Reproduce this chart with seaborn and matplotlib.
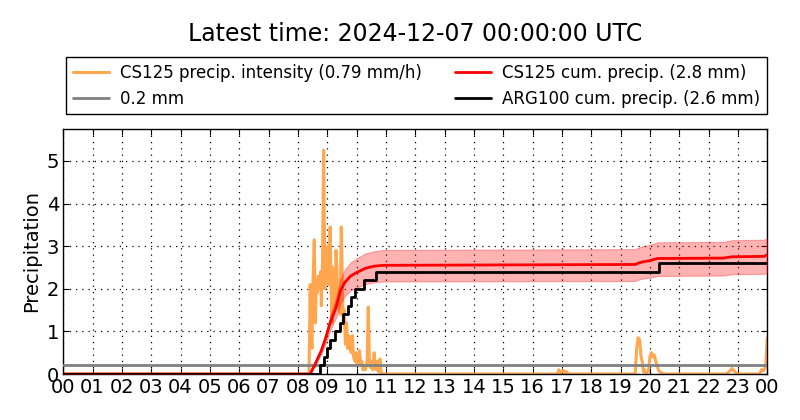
import matplotlib
matplotlib.use("Agg")
import matplotlib.pyplot as plt
import numpy as np
import pandas as pd
import seaborn as sns

# --- data (hours since 2024-12-06 00:00 UTC) ---
int_hours = [0.0, 8.38, 8.42, 8.45, 8.48, 8.52, 8.56, 8.60, 8.63, 8.66, 8.70, 8.74,
             8.78, 8.80, 8.84, 8.88, 8.92, 8.95, 8.98, 9.02, 9.06, 9.10, 9.13, 9.16,
             9.19, 9.23, 9.27, 9.30, 9.33, 9.36, 9.40, 9.44, 9.48, 9.52, 9.55, 9.58,
             9.62, 9.66, 9.70, 9.74, 9.78, 9.82, 9.86, 9.90, 9.94, 9.98, 10.02, 10.06,
             10.10, 10.14, 10.18, 10.22, 10.26, 10.30, 10.36, 10.40, 10.44, 10.48,
             10.52, 10.56, 10.60, 10.64, 10.68, 10.72, 10.76, 10.80, 10.84, 10.90,
             16.85, 16.90, 16.95, 17.05, 17.10, 17.15, 17.20,
             19.50, 19.55, 19.60, 19.65, 19.70, 19.74, 19.78, 19.82, 19.86, 19.95,
             20.00, 20.05, 20.10, 20.15, 20.20, 20.25, 20.30, 20.35, 20.45,
             22.60, 22.70, 22.80, 22.90, 23.00, 23.75, 23.80, 23.88, 23.95, 24.0]
int_values = [0.0, 0.0, 2.1, 1.0, 0.6, 2.3, 3.15, 1.2, 2.2, 1.9, 2.3, 2.0,
              2.4, 1.6, 2.6, 5.25, 2.0, 2.8, 2.2, 3.0, 2.1, 3.45, 2.2, 1.2,
              2.5, 2.3, 1.5, 2.9, 2.5, 1.6, 2.0, 1.4, 3.45, 2.0, 1.2, 1.5,
              0.7, 1.2, 0.6, 0.9, 0.6, 0.5, 0.9, 0.4, 0.3, 0.5, 0.2, 0.35,
              0.55, 0.2, 0.3, 0.1, 0.2, 0.1, 0.3, 1.57, 0.3, 0.15,
              0.3, 0.1, 0.5, 0.15, 0.1, 0.3, 0.05, 0.35, 0.02, 0.0,
              0.0, 0.1, 0.02, 0.08, 0.02, 0.06, 0.0,
              0.0, 0.6, 0.85, 0.8, 0.4, 0.3, 0.05, 0.1, 0.02, 0.05,
              0.4, 0.5, 0.4, 0.45, 0.3, 0.2, 0.08, 0.05, 0.0,
              0.0, 0.05, 0.13, 0.05, 0.0, 0.0, 0.1, 0.08, 0.2, 0.84]

cum_hours = [0.0, 8.42, 8.6, 8.8, 8.95, 9.1, 9.3, 9.45, 9.6, 9.8, 10.0, 10.3,
             10.6, 10.9, 19.5, 19.6, 19.75, 20.0, 20.25, 22.5, 22.8, 23.9, 24.0]
cum_cs125 = [0.0, 0.0, 0.25, 0.55, 0.85, 1.2, 1.55, 1.95, 2.15, 2.3, 2.38, 2.48,
             2.53, 2.55, 2.57, 2.6, 2.63, 2.66, 2.71, 2.72, 2.75, 2.76, 2.8]
cum_lower = [0.0, 0.0, 0.21, 0.47, 0.72, 1.02, 1.32, 1.66, 1.83, 1.96, 2.02, 2.11,
             2.15, 2.17, 2.18, 2.21, 2.24, 2.26, 2.30, 2.31, 2.34, 2.35, 2.38]
cum_upper = [0.0, 0.0, 0.29, 0.63, 0.97, 1.37, 1.77, 2.22, 2.45, 2.62, 2.71, 2.83,
             2.88, 2.91, 2.93, 2.96, 3.0, 3.03, 3.09, 3.10, 3.14, 3.15, 3.19]

arg_hours = [0.0, 8.75, 8.9, 8.98, 9.1, 9.25, 9.45, 9.55, 9.7, 9.8, 9.95, 10.25,
             10.65, 20.3, 24.0]
arg_cum = [0.0, 0.2, 0.4, 0.6, 0.8, 1.0, 1.2, 1.4, 1.6, 1.8, 2.0, 2.2,
           2.4, 2.6, 2.6]

threshold = 0.2
tick_hours = list(range(0, 25))
tick_labels = ["%02d" % (h % 24) for h in tick_hours]

title = "Latest time: 2024-12-07 00:00:00 UTC"
labels = ["CS125 precip. intensity (0.79 mm/h)", "0.2 mm",
          "CS125 cum. precip. (2.8 mm)", "ARG100 cum. precip. (2.6 mm)"]

# --- style ---
sns.set_style("ticks")
plt.rcParams["font.family"] = ["DejaVu Sans"]
plt.rcParams["xtick.direction"] = "in"
plt.rcParams["ytick.direction"] = "in"
plt.rcParams["text.color"] = "black"
plt.rcParams["axes.labelcolor"] = "black"
plt.rcParams["xtick.color"] = "black"
plt.rcParams["ytick.color"] = "black"

df_int = pd.DataFrame({"hour": int_hours, "value": int_values})
df_cum = pd.DataFrame({"hour": cum_hours, "value": cum_cs125})
df_arg = pd.DataFrame({"hour": arg_hours, "value": arg_cum})

fig = plt.figure(figsize=(8, 4.2), dpi=100)
ax = fig.add_axes([0.079, 0.1095, 0.88, 0.5835])

sns.lineplot(data=df_int, x="hour", y="value", ax=ax, color="#ffa64f",
             lw=2.2, label=labels[0], zorder=2)
ax.axhline(threshold, color="gray", lw=2, label=labels[1], zorder=3)
ax.fill_between(cum_hours, cum_lower, cum_upper, color="red", alpha=0.3,
                lw=0.8, zorder=3)
sns.lineplot(data=df_cum, x="hour", y="value", ax=ax, color="red",
             lw=2, label=labels[2], zorder=4)
sns.lineplot(data=df_arg, x="hour", y="value", ax=ax, color="black",
             lw=2, drawstyle="steps-post", label=labels[3], zorder=5)

ax.set_xlim(0, 24)
ax.set_ylim(0, 5.75)
ax.set_xticks(tick_hours)
ax.set_xticklabels(tick_labels)
ax.set_yticks([0, 1, 2, 3, 4, 5])
ax.tick_params(labelsize=14, top=True, right=True, length=4, width=0.8,
               pad=3, colors="black")
ax.set_xlabel("")
ax.set_ylabel("Precipitation", fontsize=14, color="black")
ax.grid(True, color="black", linestyle=(0, (1, 4)), lw=0.9)
for sp in ax.spines.values():
    sp.set_color("black")
    sp.set_linewidth(1)

handles, labs = ax.get_legend_handles_labels()
ax.get_legend().remove()
order = [labs.index(l) for l in labels]
leg = fig.legend([handles[i] for i in order], [labs[i] for i in order],
                 loc="lower left", bbox_to_anchor=(0.0825, 0.728, 0.8765, 0.138),
                 mode="expand", ncol=2, borderaxespad=0, fontsize=12,
                 handlelength=2.15, handletextpad=0.7, fancybox=False,
                 framealpha=1, edgecolor="black", labelspacing=0.45,
                 labelcolor="black")
leg.get_frame().set_linewidth(1)

fig.text(0.519, 0.918, title, fontsize=17, ha="center", va="center",
         color="black")

fig.savefig("out.png", dpi=100, facecolor="white")
